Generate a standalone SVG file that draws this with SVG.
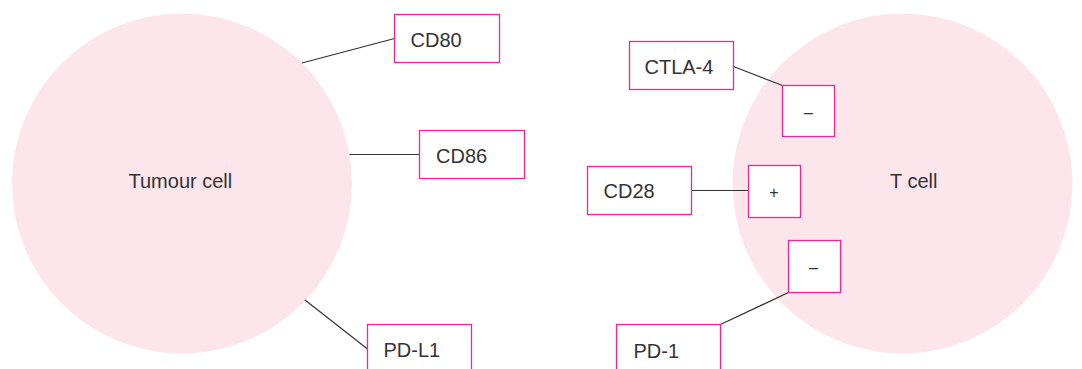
<svg xmlns="http://www.w3.org/2000/svg" width="1082" height="369" viewBox="0 0 1082 369">
<style>
.cell{fill:#fce6ec}
.box{fill:#ffffff;stroke:#ec2a8e;stroke-width:1.3}
.lbl{font-family:"Liberation Sans",Arial,sans-serif;font-size:20px;fill:#333333}
.sign{font-family:"Liberation Sans",Arial,sans-serif;font-size:16px;fill:#333333;text-anchor:middle}
.conn{stroke:#333333;stroke-width:1.2;fill:none}
</style>
<rect width="1082" height="369" fill="#ffffff"/>
<g id="tumour-cell">
<circle class="cell" cx="182" cy="183.5" r="170"/>
<text class="lbl" x="128.5" y="188">Tumour cell</text>
</g>
<g id="t-cell">
<circle class="cell" cx="902.5" cy="183.5" r="170"/>
<text class="lbl" x="890" y="188">T cell</text>
</g>
<g id="connectors">
<line class="conn" x1="302" y1="63" x2="394.5" y2="38.5"/>
<line class="conn" x1="349.5" y1="154.5" x2="419.5" y2="154.5"/>
<line class="conn" x1="305" y1="300" x2="367.5" y2="349"/>
<line class="conn" x1="733.5" y1="66.5" x2="782.5" y2="85.5"/>
<line class="conn" x1="691.5" y1="190.5" x2="748.5" y2="190.5"/>
<line class="conn" x1="720.5" y1="324.5" x2="788.5" y2="292.5"/>
</g>
<g id="cd80">
<rect class="box" x="394.5" y="14.5" width="105" height="48"/>
<text class="lbl" x="410.5" y="46.5">CD80</text>
</g>
<g id="cd86">
<rect class="box" x="419.5" y="130.5" width="105" height="48"/>
<text class="lbl" x="436" y="162.5">CD86</text>
</g>
<g id="pd-l1">
<rect class="box" x="367.5" y="324.5" width="104" height="48"/>
<text class="lbl" x="383.5" y="356.5">PD-L1</text>
</g>
<g id="ctla-4">
<rect class="box" x="629.5" y="41.5" width="104" height="48"/>
<text class="lbl" x="644.5" y="74">CTLA-4</text>
</g>
<g id="cd28">
<rect class="box" x="587.5" y="166.5" width="104" height="48"/>
<text class="lbl" x="603.5" y="198">CD28</text>
</g>
<g id="pd-1">
<rect class="box" x="616.5" y="324.5" width="104" height="48"/>
<text class="lbl" x="633.5" y="357.5">PD-1</text>
</g>
<g id="ctla-4-sign">
<rect class="box" x="782.5" y="85.5" width="52" height="51"/>
<text class="sign" x="808.5" y="118">–</text>
</g>
<g id="cd28-sign">
<rect class="box" x="748.5" y="165.5" width="52" height="52"/>
<text class="sign" x="774" y="198">+</text>
</g>
<g id="pd-1-sign">
<rect class="box" x="788.5" y="240.5" width="52" height="52"/>
<text class="sign" x="813.5" y="273">–</text>
</g>
</svg>
